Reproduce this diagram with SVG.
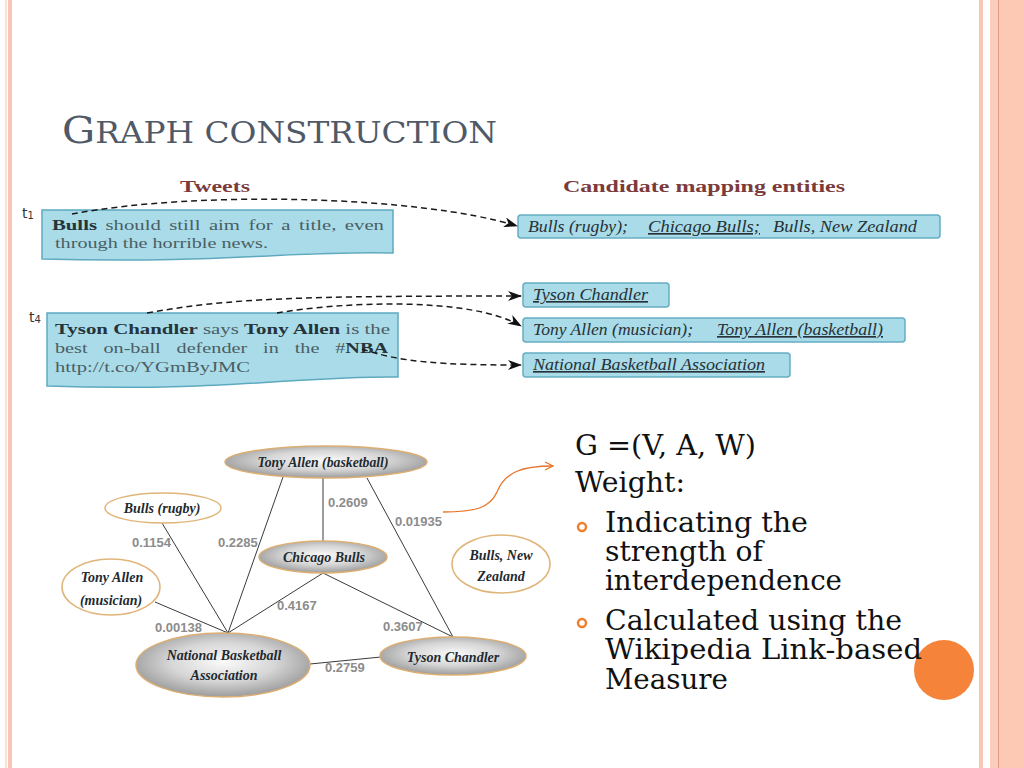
<svg xmlns="http://www.w3.org/2000/svg" width="1024" height="768" viewBox="0 0 1024 768">
<defs>
<style>
.tw{font-family:"Liberation Serif",serif;font-size:15px;fill:#4b5e64}
.b{font-weight:bold;fill:#24343a}
.hd{font-family:"Liberation Serif",serif;font-size:16.5px;font-weight:bold;fill:#7b3b3b}
.tb{fill:#a9dbe8;stroke:#5ea9bf;stroke-width:1.5}
.cand{fill:#a9dbe8;stroke:#65adc2;stroke-width:1.5}
.ct{font-family:"Liberation Serif",serif;font-style:italic;font-size:16.5px;fill:#263238}
.u{text-decoration:underline}
.lbl{font-family:"DejaVu Sans",sans-serif;font-size:14px;fill:#333}
.dash{fill:none;stroke:#1a1a1a;stroke-width:1.5;stroke-dasharray:6 4;marker-end:url(#ah)}
.nw{fill:#fff;stroke:#e0b57a;stroke-width:1.5}
.ng{fill:url(#gg);stroke:#dcae72;stroke-width:1.5}
.nl{font-family:"Liberation Serif",serif;font-style:italic;font-weight:bold;font-size:14px;fill:#1e2a30;text-anchor:middle}
.e{stroke:#3a3a3a;stroke-width:1;fill:none}
.w{font-family:"Liberation Sans",sans-serif;font-weight:bold;font-size:13px;fill:#8c8c8c}
.rt{font-family:"DejaVu Serif",serif;font-size:27px;fill:#111}
</style>
<radialGradient id="gg" cx="50%" cy="45%" r="55%">
<stop offset="0" stop-color="#fafafa"/>
<stop offset="0.55" stop-color="#d6d6d6"/>
<stop offset="1" stop-color="#9c9c9c"/>
</radialGradient>
<marker id="ah" viewBox="0 0 14 10" refX="13" refY="5" markerWidth="14" markerHeight="10" markerUnits="userSpaceOnUse" orient="auto">
<path d="M0,0 L14,5 L0,10 L4,5 Z" fill="#111"/>
</marker>
<marker id="oa" viewBox="0 0 10 10" refX="9" refY="5" markerWidth="10" markerHeight="10" markerUnits="userSpaceOnUse" orient="auto">
<path d="M1,1 L9,5 L1,9" fill="none" stroke="#e8742a" stroke-width="1.3"/>
</marker>
</defs>
<rect width="1024" height="768" fill="#fff"/>
<!-- slide borders -->
<g id="borders">
<rect x="5" y="0" width="2" height="768" fill="#f7e2d4"/>
<rect x="8" y="0" width="4" height="768" fill="#fbc5b6"/>
<rect x="979" y="0" width="4" height="768" fill="#f9c6b6"/>
<rect x="990" y="0" width="34" height="768" fill="#fcc9b7"/>
<rect x="990" y="0" width="8" height="768" fill="#fbcdbd"/>
<rect x="998" y="0" width="1" height="768" fill="#e49a7c"/>
<rect x="1008" y="0" width="16" height="768" fill="#fdc8b4"/>
</g>
<text x="62" y="143" font-family="DejaVu Serif, serif" fill="#4f5967" textLength="435" lengthAdjust="spacingAndGlyphs"><tspan font-size="38">G</tspan><tspan font-size="30">RAPH CONSTRUCTION</tspan></text>

<!-- headers -->
<text class="hd" x="180" y="192" textLength="70" lengthAdjust="spacingAndGlyphs">Tweets</text>
<text class="hd" x="563" y="192" textLength="282" lengthAdjust="spacingAndGlyphs">Candidate mapping entities</text>

<!-- tweet 1 -->
<g id="tweet1">
<text class="lbl" x="22" y="218">t<tspan font-size="10" dy="1">1</tspan></text>
<path class="tb" d="M42,210 H393 V253 C300,250 220,264 42,259 Z"/>
<text class="tw" x="52" y="230" word-spacing="2.4" textLength="332" lengthAdjust="spacingAndGlyphs"><tspan class="b">Bulls</tspan> should still aim for a title, even</text>
<text class="tw" x="55" y="248" textLength="213" lengthAdjust="spacingAndGlyphs">through the horrible news.</text>
</g>

<!-- tweet 4 -->
<g id="tweet4">
<text class="lbl" x="29" y="322">t<tspan font-size="10" dy="1">4</tspan></text>
<path class="tb" d="M47,313 H398 V377 C300,376 220,392 47,386 Z"/>
<text class="tw" x="55" y="334" textLength="335" lengthAdjust="spacingAndGlyphs"><tspan class="b">Tyson Chandler</tspan> says <tspan class="b">Tony Allen</tspan> is the</text>
<text class="tw" x="55" y="353" word-spacing="8" textLength="333" lengthAdjust="spacingAndGlyphs">best on-ball defender in the #<tspan class="b">NBA</tspan></text>
<text class="tw" x="55" y="372" textLength="195" lengthAdjust="spacingAndGlyphs">http://t.co/YGmByJMC</text>
</g>

<!-- candidate boxes -->
<g id="cand1">
<rect class="cand" x="518" y="215" width="422" height="23" rx="3"/>
<text class="ct" x="528" y="232" textLength="100" lengthAdjust="spacingAndGlyphs">Bulls (rugby);</text>
<text class="ct u" x="648" y="232" textLength="112" lengthAdjust="spacingAndGlyphs">Chicago Bulls;</text>
<text class="ct" x="773" y="232" textLength="144" lengthAdjust="spacingAndGlyphs">Bulls, New Zealand</text>
</g>
<g id="cand2">
<rect class="cand" x="523" y="283" width="146" height="24" rx="3"/>
<text class="ct u" x="533" y="300" textLength="115" lengthAdjust="spacingAndGlyphs">Tyson Chandler</text>
</g>
<g id="cand3">
<rect class="cand" x="523" y="318" width="382" height="24" rx="3"/>
<text class="ct" x="533" y="335" textLength="160" lengthAdjust="spacingAndGlyphs">Tony Allen (musician);</text>
<text class="ct u" x="717" y="335" textLength="166" lengthAdjust="spacingAndGlyphs">Tony Allen (basketball)</text>
</g>
<g id="cand4">
<rect class="cand" x="523" y="353" width="267" height="24" rx="3"/>
<text class="ct u" x="533" y="370" textLength="232" lengthAdjust="spacingAndGlyphs">National Basketball Association</text>
</g>

<!-- dashed mapping arrows -->
<g id="mapping">
<path class="dash" d="M72,214 C200,190 420,196 517,226"/>
<path class="dash" d="M147,313 C230,298 300,296 521,296"/>
<path class="dash" d="M277,313 C340,302 470,296 521,326"/>
<path class="dash" d="M362,349 C400,362 440,365 521,365"/>
</g>

<!-- graph edges -->
<g id="edges">
<line class="e" x1="162" y1="523" x2="228" y2="633"/>
<line class="e" x1="283" y1="477" x2="228" y2="633"/>
<line class="e" x1="155" y1="602" x2="228" y2="633"/>
<line class="e" x1="323" y1="573" x2="228" y2="633"/>
<line class="e" x1="323" y1="478" x2="323" y2="541"/>
<line class="e" x1="367" y1="478" x2="453" y2="637"/>
<line class="e" x1="323" y1="573" x2="453" y2="637"/>
<line class="e" x1="310" y1="664" x2="381" y2="657"/>
<path d="M443,512 C475,512 490,508 497,492 C505,472 522,466 553,466" fill="none" stroke="#e8742a" stroke-width="1.3" marker-end="url(#oa)"/>
</g>
<g id="weights">
<text class="w" x="132" y="547">0.1154</text>
<text class="w" x="218" y="547">0.2285</text>
<text class="w" x="155" y="632">0.00138</text>
<text class="w" x="277" y="610">0.4167</text>
<text class="w" x="328" y="507">0.2609</text>
<text class="w" x="395" y="526">0.01935</text>
<text class="w" x="383" y="631">0.3607</text>
<text class="w" x="325" y="672">0.2759</text>
</g>

<!-- graph nodes -->
<g id="n-tab"><ellipse class="ng" cx="326" cy="462" rx="101" ry="16"/><text class="nl" x="323" y="467" textLength="131" lengthAdjust="spacingAndGlyphs">Tony Allen (basketball)</text></g>
<g id="n-br"><ellipse class="nw" cx="163" cy="508" rx="58" ry="15"/><text class="nl" x="162" y="513">Bulls (rugby)</text></g>
<g id="n-cb"><ellipse class="ng" cx="323" cy="557" rx="64" ry="16"/><text class="nl" x="324" y="562">Chicago Bulls</text></g>
<g id="n-tam"><ellipse class="nw" cx="111" cy="587" rx="49" ry="28"/><text class="nl" x="112" y="582">Tony Allen</text><text class="nl" x="111" y="605">(musician)</text></g>
<g id="n-bnz"><ellipse class="nw" cx="501" cy="564" rx="49" ry="29"/><text class="nl" x="501" y="560">Bulls, New</text><text class="nl" x="501" y="581">Zealand</text></g>
<g id="n-nba"><ellipse class="ng" cx="223" cy="665" rx="87" ry="32"/><text class="nl" x="224" y="660">National Basketball</text><text class="nl" x="224" y="680">Association</text></g>
<g id="n-tc"><ellipse class="ng" cx="453" cy="656" rx="73" ry="19"/><text class="nl" x="453" y="662">Tyson Chandler</text></g>

<!-- right text -->
<circle cx="944" cy="670" r="30" fill="#f5843a"/>
<g id="bullets">
<circle cx="582" cy="527" r="4" fill="none" stroke="#f08030" stroke-width="2.5"/>
<circle cx="582" cy="623" r="4" fill="none" stroke="#f08030" stroke-width="2.5"/>
</g>
<g id="rtext">
<text class="rt" x="575" y="455" textLength="181" lengthAdjust="spacingAndGlyphs">G =(V, A, W)</text>
<text class="rt" x="575" y="492" textLength="110" lengthAdjust="spacingAndGlyphs">Weight:</text>
<text class="rt" x="605" y="532" textLength="203" lengthAdjust="spacingAndGlyphs">Indicating the</text>
<text class="rt" x="605" y="561" textLength="158" lengthAdjust="spacingAndGlyphs">strength of</text>
<text class="rt" x="605" y="590" textLength="237" lengthAdjust="spacingAndGlyphs">interdependence</text>
<text class="rt" x="605" y="630" textLength="297" lengthAdjust="spacingAndGlyphs">Calculated using the</text>
<text class="rt" x="605" y="659" textLength="317" lengthAdjust="spacingAndGlyphs">Wikipedia Link-based</text>
<text class="rt" x="605" y="689" textLength="123" lengthAdjust="spacingAndGlyphs">Measure</text>
</g>
</svg>
